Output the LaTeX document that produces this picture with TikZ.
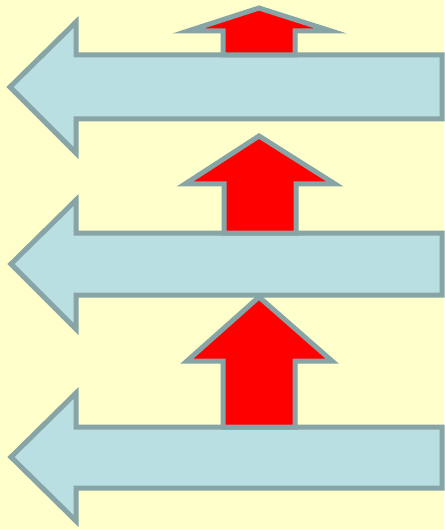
\documentclass[tikz,border=0pt]{standalone}
\definecolor{bgyellow}{RGB}{255,255,204}
\definecolor{arrowblue}{RGB}{185,223,227}
\definecolor{edgegrey}{RGB}{135,164,166}
\definecolor{arrowred}{RGB}{255,0,0}
\tikzset{
  bluearrow/.style={fill=arrowblue,draw=edgegrey,line width=5pt,line join=miter,miter limit=10},
  redarrow/.style={fill=arrowred,draw=edgegrey,line width=5pt,line join=miter,miter limit=10}
}
\begin{document}
\begin{tikzpicture}[x=1pt,y=-1pt]
\fill[bgyellow] (0,0) rectangle (444,529);
\useasboundingbox (0,0) rectangle (444,529);
% blue arrow 1
\draw[bluearrow] (10,87) -- (76,22) -- (76,55) -- (442,55) -- (442,119) -- (76,119) -- (76,153) -- cycle;
% red arrow 1
\draw[redarrow] (259,8) -- (331,31) -- (295,31) -- (295,55) -- (223,55) -- (223,31) -- (188,31) -- cycle;
% blue arrow 2
\draw[bluearrow] (11,264) -- (76,200) -- (76,233) -- (442,233) -- (442,295) -- (76,295) -- (76,329) -- cycle;
% red arrow 2
\draw[redarrow] (259,136) -- (335,184) -- (296,184) -- (296,233) -- (224,233) -- (224,184) -- (185,184) -- cycle;
% blue arrow 3
\draw[bluearrow] (11,457) -- (76,393) -- (76,427) -- (442,427) -- (442,488) -- (76,488) -- (76,521) -- cycle;
% red arrow 3
\draw[redarrow] (259,297) -- (332,361) -- (295,361) -- (295,427) -- (223,427) -- (223,361) -- (187,361) -- cycle;
\end{tikzpicture}
\end{document}
